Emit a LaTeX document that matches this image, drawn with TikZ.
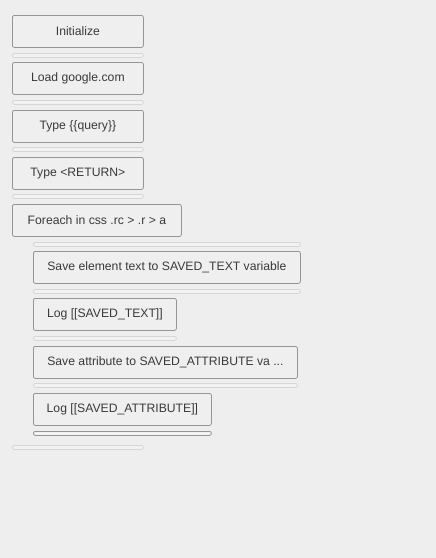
\documentclass[tikz,border=0pt]{standalone}
\usepackage{fontspec}
\setmainfont{Liberation Sans}
\definecolor{bg}{HTML}{EEEEEE}
\definecolor{boxfill}{HTML}{EFEFEF}
\definecolor{boxline}{HTML}{959595}
\definecolor{barline}{HTML}{D6D6D6}
\definecolor{barfill}{HTML}{F2F2F2}
\definecolor{txt}{HTML}{3A3A3A}
\begin{document}
\begin{tikzpicture}[x=1pt,y=-1pt,
  stepbox/.style={draw=boxline, fill=boxfill, rounded corners=2pt, line width=0.8pt,
    anchor=north west, minimum height=32pt, inner sep=0pt, text=txt,
    font=\fontsize{12.2}{14}\selectfont},
  barbox/.style={draw=barline, fill=barfill, rounded corners=2pt, line width=0.8pt,
    anchor=north west, minimum height=4pt, inner sep=0pt},
  barlast/.style={barbox, draw=boxline}]
\fill[bg] (0,0) rectangle (436,558);
\useasboundingbox (0,0) rectangle (436,558);

\node[stepbox, minimum width=131pt] (n1) at (12,15) {Initialize};
\node[barbox, minimum width=131pt] (b1) at (12,53) {};
\node[stepbox, minimum width=131pt] (n2) at (12,62) {Load google.com};
\node[barbox, minimum width=131pt] (b2) at (12,100) {};
\node[stepbox, minimum width=131pt] (n3) at (12,110) {Type \{\{query\}\}};
\node[barbox, minimum width=131pt] (b3) at (12,147) {};
\node[stepbox, minimum width=131pt] (n4) at (12,157) {Type <RETURN>};
\node[barbox, minimum width=131pt] (b4) at (12,194) {};
\node[stepbox, minimum width=169pt] (n5) at (12,204) {Foreach in css .rc > .r > a};
\node[barbox, minimum width=267pt] (b5) at (33,242) {};
\node[stepbox, minimum width=267pt] (n6) at (33,251) {Save element text to SAVED\_TEXT variable};
\node[barbox, minimum width=267pt] (b6) at (33,289) {};
\node[stepbox, minimum width=143pt] (n7) at (33,298) {Log [[SAVED\_TEXT]]};
\node[barbox, minimum width=143pt] (b7) at (33,336) {};
\node[stepbox, minimum width=264pt] (n8) at (33,346) {Save attribute to SAVED\_ATTRIBUTE va ...};
\node[barbox, minimum width=264pt] (b8) at (33,383) {};
\node[stepbox, minimum width=178pt] (n9) at (33,393) {Log [[SAVED\_ATTRIBUTE]]};
\node[barlast, minimum width=178pt] (b9) at (33,431) {};
\node[barbox, minimum width=131pt] (b10) at (12,445) {};
\end{tikzpicture}
\end{document}
